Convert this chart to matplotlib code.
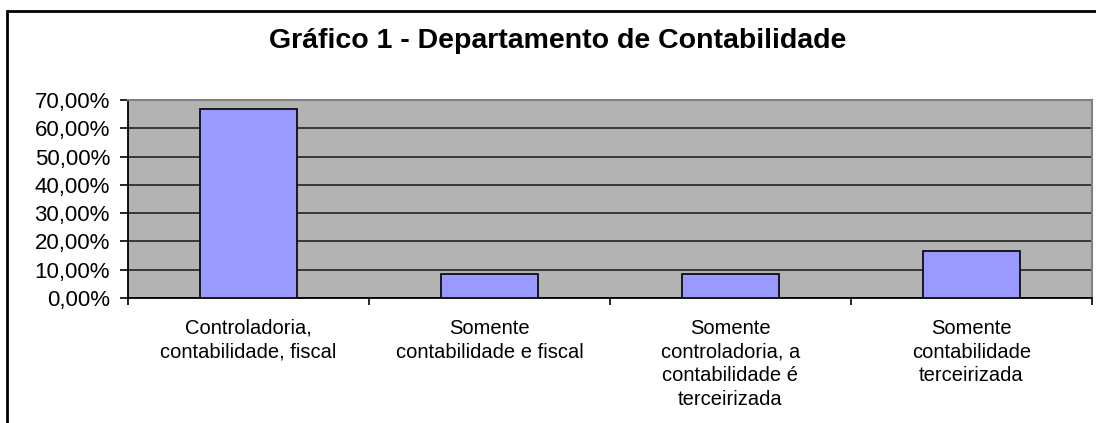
import matplotlib
matplotlib.use("Agg")
import matplotlib.pyplot as plt
from matplotlib.patches import Rectangle
from matplotlib.ticker import FuncFormatter

plt.rcParams['font.family'] = ['Liberation Sans', 'DejaVu Sans']

## dados
categorias = ["Controladoria,\ncontabilidade, fiscal",
              "Somente\ncontabilidade e fiscal",
              "Somente\ncontroladoria, a\ncontabilidade é\nterceirizada",
              "Somente\ncontabilidade\nterceirizada"]
valores = [66.67, 8.33, 8.33, 16.67]
titulo = "Gráfico 1 - Departamento de Contabilidade"

W, H = 1096, 423
fig = plt.figure(figsize=(W / 100, H / 100), dpi=100)

# moldura do gráfico (lado direito e inferior cortados)
fig.patches.append(Rectangle((7 / W, -0.1), 1.2, 1 - 11 / H + 0.1,
                             transform=fig.transFigure, fill=False,
                             edgecolor='black', linewidth=2))

ax = fig.add_axes([128 / W, 1 - 298 / H, (1092 - 128) / W, (298 - 100) / H])
ax.set_facecolor('#B3B3B3')

x = list(range(len(valores)))
ax.bar(x, valores, width=0.4, color='#9999FF', edgecolor='black',
       linewidth=1.2, zorder=3)

ax.set_xlim(-0.5, len(valores) - 0.5)
ax.set_ylim(0, 70)
ax.set_yticks(range(0, 71, 10))
ax.yaxis.set_major_formatter(FuncFormatter(lambda v, p: ("%.2f%%" % v).replace('.', ',')))
ax.yaxis.grid(True, color='#222222', linewidth=1.2, zorder=1)
ax.set_axisbelow(True)

# ticks do eixo x nas divisas das categorias
ax.set_xticks([i + 0.5 for i in range(-1, len(valores))])
ax.set_xticklabels([])
ax.set_xticks(x, minor=True)
ax.set_xticklabels(categorias, minor=True, fontsize=14.5, linespacing=1.32,
                   va='top', ha='center')
ax.tick_params(axis='x', which='minor', length=0, pad=15)
ax.tick_params(axis='x', which='major', direction='out', length=5, width=1.2)
ax.tick_params(axis='y', direction='out', length=6, width=1.2, labelsize=16, pad=7)

for s in ['left', 'bottom']:
    ax.spines[s].set_color('black')
    ax.spines[s].set_linewidth(1.3)
for s in ['top', 'right']:
    ax.spines[s].set_color('#808080')
    ax.spines[s].set_linewidth(1.5)

fig.text(0.5 * (268 + 847) / W, 1 - 41 / H, titulo, ha='center', va='center',
         fontsize=20.5, fontweight='bold')

fig.savefig('out.png', dpi=100, facecolor='white')
